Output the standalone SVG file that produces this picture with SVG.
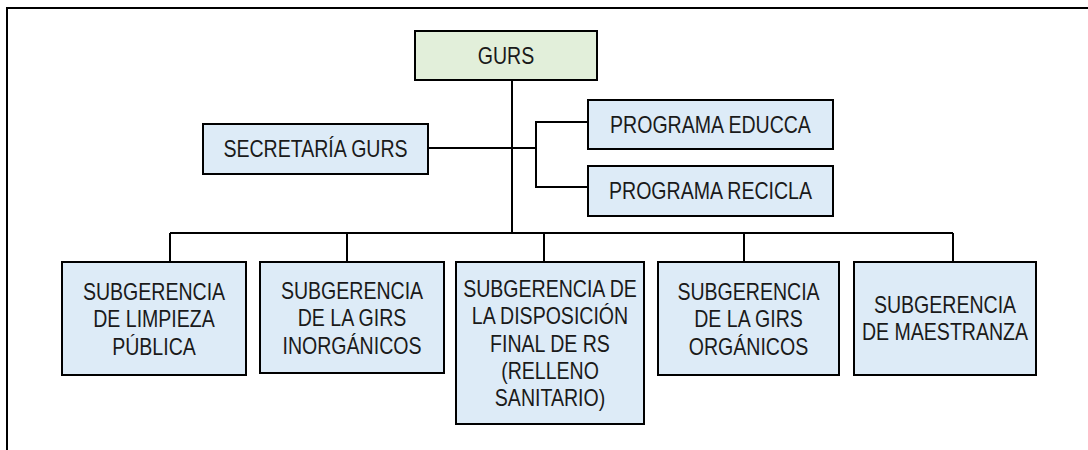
<svg xmlns="http://www.w3.org/2000/svg" width="1088" height="450" viewBox="0 0 1088 450">
<style>
.box{fill:#DDEBF7;stroke:#000;stroke-width:2}
.top{fill:#E2EFDA;stroke:#000;stroke-width:2}
.t{font-family:"Liberation Sans",Arial,sans-serif;font-size:23px;fill:#1a1a1a;text-anchor:middle}
.ln{fill:none;stroke:#000;stroke-width:2}
</style>
<rect width="1088" height="450" fill="#fff"/>
<path class="ln" d="M1088 8H7V450"/>
<g id="connectors">
<path class="ln" d="M512 80V233"/>
<path class="ln" d="M428 148H536"/>
<path class="ln" d="M588 122H536V187H588"/>
<path class="ln" d="M170 233H953"/>
<path class="ln" d="M170 233V262M347 233V262M544 233V262M744 233V262M953 233V262"/>
</g>
<g id="gurs"><rect class="top" x="415" y="31" width="182" height="49"/><text class="t" transform="translate(506,64) scale(0.85,1)">GURS</text></g>
<g id="secretaria"><rect class="box" x="203" y="124" width="225" height="50"/><text class="t" transform="translate(315.5,157) scale(0.85,1)">SECRETARÍA GURS</text></g>
<g id="educca"><rect class="box" x="588" y="100" width="245" height="49"/><text class="t" transform="translate(710.5,133) scale(0.85,1)">PROGRAMA EDUCCA</text></g>
<g id="recicla"><rect class="box" x="588" y="166" width="245" height="50"/><text class="t" transform="translate(710.5,199) scale(0.85,1)">PROGRAMA RECICLA</text></g>
<g id="sub1"><rect class="box" x="62" y="262" width="184" height="113"/><text class="t" transform="translate(154,300) scale(0.85,1)">SUBGERENCIA<tspan x="0" dy="27.3">DE LIMPIEZA</tspan><tspan x="0" dy="27.3">PÚBLICA</tspan></text></g>
<g id="sub2"><rect class="box" x="260" y="262" width="184" height="111"/><text class="t" transform="translate(352,299) scale(0.85,1)">SUBGERENCIA<tspan x="0" dy="27.3">DE LA GIRS</tspan><tspan x="0" dy="27.3">INORGÁNICOS</tspan></text></g>
<g id="sub3"><rect class="box" x="456" y="262" width="188" height="162"/><text class="t" transform="translate(550,297) scale(0.85,1)">SUBGERENCIA DE<tspan x="0" dy="27.3">LA DISPOSICIÓN</tspan><tspan x="0" dy="27.3">FINAL DE RS</tspan><tspan x="0" dy="27.3">(RELLENO</tspan><tspan x="0" dy="27.3">SANITARIO)</tspan></text></g>
<g id="sub4"><rect class="box" x="658" y="262" width="181" height="113"/><text class="t" transform="translate(748.5,300) scale(0.85,1)">SUBGERENCIA<tspan x="0" dy="27.3">DE LA GIRS</tspan><tspan x="0" dy="27.3">ORGÁNICOS</tspan></text></g>
<g id="sub5"><rect class="box" x="854" y="262" width="182" height="113"/><text class="t" transform="translate(945,313) scale(0.85,1)">SUBGERENCIA<tspan x="0" dy="27.3">DE MAESTRANZA</tspan></text></g>
</svg>
